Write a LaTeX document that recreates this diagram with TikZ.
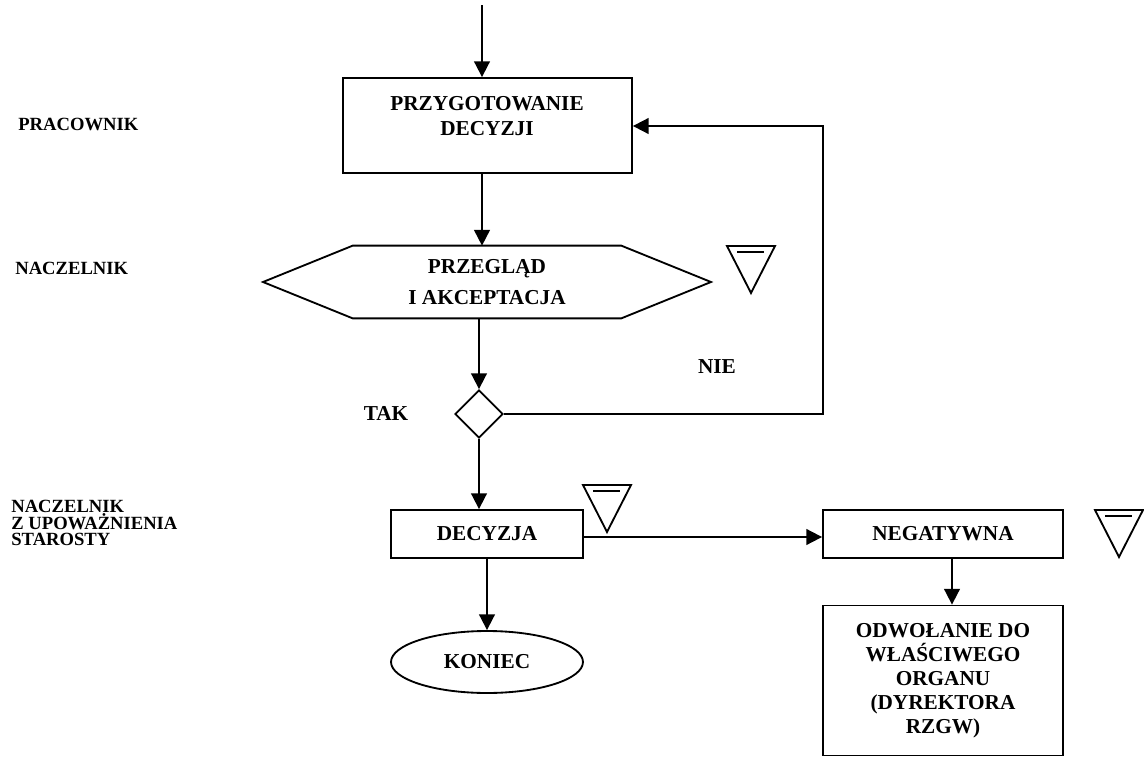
\documentclass[tikz,border=0pt]{standalone}
\usepackage{fontspec}
\setmainfont{Liberation Serif}
\usetikzlibrary{arrows.meta,shapes.geometric}
\tikzset{
  ln/.style={line width=1.05pt},
  arr/.style={ln,-{Triangle[length=9pt,width=9pt]}},
  boxtxt/.style={font=\fontsize{12.1}{14}\selectfont\bfseries,align=center},
  lanetxt/.style={font=\fontsize{10.6}{9.5}\selectfont\bfseries,align=left,anchor=west,inner sep=0pt},
  procbox/.style={draw,ln,rectangle,inner sep=0pt,boxtxt},
  store/.pic={
    \draw[ln,line join=miter] (-24,0) -- (24,0) -- (0,47) -- cycle;
    \draw[ln] (-14,6) -- (13,6);
  }
}
\begin{document}
\begin{tikzpicture}[x=0.02cm,y=-0.02cm]
\useasboundingbox (0,0) rectangle (1144,758);
% lane labels
\node[lanetxt] (l1) at (18,124) {PRACOWNIK};
\node[lanetxt] (l2) at (15,268) {NACZELNIK};
\node[lanetxt] (l3) at (11,523) {NACZELNIK\\Z UPOWAŻNIENIA\\STAROSTY};
% nodes
\coordinate (start) at (482,5);
\node[procbox,minimum width=5.78cm,minimum height=1.9cm] (box1) at (487.5,125.5) {};
\node[boxtxt] (box1t) at (487,116) {PRZYGOTOWANIE\\DECYZJI};
\node[rectangle,inner sep=0pt,minimum width=5.36cm,minimum height=1.44cm,
      font=\fontsize{12.1}{18}\selectfont\bfseries,align=center] (hex) at (487,282) {PRZEGLĄD\\I AKCEPTACJA};
\draw[ln] (hex.north west) -- (hex.north east) -- (711,282) -- (hex.south east)
   -- (hex.south west) -- (263,282) -- cycle;
\node[diamond,draw,ln,inner sep=0pt,minimum width=0.96cm,minimum height=0.96cm] (dia) at (479,414) {};
\node[procbox,minimum width=3.84cm,minimum height=0.96cm] (dec) at (487,534) {DECYZJA};
\node[procbox,minimum width=4.8cm,minimum height=0.96cm] (neg) at (943,534) {NEGATYWNA};
\node[procbox,minimum width=4.8cm,minimum height=3.0cm,font=\fontsize{12.1}{13.7}\selectfont\bfseries] (odw) at (943,680.5)
  {ODWOŁANIE DO\\WŁAŚCIWEGO\\ORGANU\\(DYREKTORA\\RZGW)};
\node[ellipse,draw,ln,inner sep=0pt,minimum width=3.84cm,minimum height=1.24cm,boxtxt] (kon) at (487,662) {KONIEC};
% labels
\node[boxtxt] (nie) at (717,367) {NIE};
\node[boxtxt] (tak) at (386,413) {TAK};
% storage symbols
\pic at (751,246) {store};
\pic at (607,485) {store};
\pic at (1119,510) {store};
% connectors
\coordinate (fb) at (823,126);
\draw[arr] (start) -- (start |- box1.north);
\draw[arr] (start |- box1.south) -- (start |- hex.north);
\draw[arr] (dia.north |- hex.south) -- (dia.north);
\draw[arr] (dia.south) -- (dia.south |- dec.north);
\draw[arr] (dia.east) -| (fb) -- (fb -| box1.east);
\draw[arr] ([yshift=-0.06cm]dec.east) -- ([yshift=-0.06cm]neg.west);
\draw[arr] (dec.south) -- (kon.north);
\coordinate (nd) at (952,558);
\draw[arr] (nd |- neg.south) -- (nd |- odw.north);
\end{tikzpicture}
\end{document}
